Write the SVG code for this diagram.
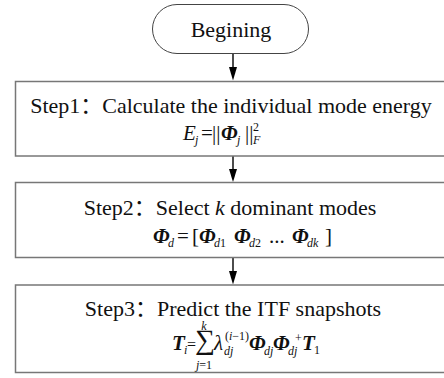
<svg xmlns="http://www.w3.org/2000/svg" width="444" height="378" viewBox="0 0 444 378">
<style>
.box{fill:#fff;stroke:#777;stroke-width:1.5}
.term{fill:#fff;stroke:#444;stroke-width:1}
.t{font-family:"Liberation Serif","Noto Sans CJK SC",serif;font-size:22px;fill:#111;text-anchor:middle}
.m{font-family:"Liberation Serif",serif;font-size:21px;fill:#111}
.bi{font-weight:bold;font-style:italic}
.i{font-style:italic}
.s{font-size:12px}
.c{stroke:#000;stroke-width:1.4;fill:none}
.ah{fill:#000}
</style>
<rect width="444" height="378" fill="#fff"/>
<g id="connectors">
<line class="c" x1="233" y1="53" x2="233" y2="72"/>
<path class="ah" d="M229,67 L237,67 L233,80.5 Z"/>
<line class="c" x1="233" y1="156" x2="233" y2="174"/>
<path class="ah" d="M229,169 L237,169 L233,182 Z"/>
<line class="c" x1="233" y1="258" x2="233" y2="276"/>
<path class="ah" d="M229,271 L237,271 L233,284.5 Z"/>
</g>
<g id="begin">
<rect class="term" x="152.5" y="4.5" width="156" height="49" rx="24.5"/>
<text class="t" x="231" y="37">Begining</text>
</g>
<g id="step1">
<rect class="box" x="15.5" y="81.5" width="440" height="74.5"/>
<text class="t" x="231" y="113">Step1：Calculate the individual mode energy</text>
<text class="m" y="140"><tspan x="183" class="i">E</tspan><tspan x="195" y="144" class="s i">j</tspan><tspan x="201" y="140">=</tspan><tspan x="212">||</tspan><tspan x="221" class="bi">Φ</tspan><tspan x="237" y="144" class="s i">j</tspan><tspan x="245" y="140">||</tspan><tspan x="253" y="144" class="s i">F</tspan><tspan x="253" y="131" class="s">2</tspan></text>
</g>
<g id="step2">
<rect class="box" x="15.5" y="182.5" width="440" height="75"/>
<text class="t" x="230" y="215">Step2：Select <tspan class="i">k</tspan> dominant modes</text>
<text class="m" y="243" font-size="20px"><tspan x="153" class="bi">Φ</tspan><tspan x="168" y="247" class="s i">d</tspan><tspan x="177" y="243">=</tspan><tspan x="192">[</tspan><tspan x="199" class="bi">Φ</tspan><tspan x="214" y="247" class="s"><tspan class="i">d</tspan>1</tspan><tspan x="234" y="243" class="bi">Φ</tspan><tspan x="249" y="247" class="s"><tspan class="i">d</tspan>2</tspan><tspan x="269" y="243">...</tspan><tspan x="292" class="bi">Φ</tspan><tspan x="307" y="247" class="s i">dk</tspan><tspan x="325" y="243">]</tspan></text>
</g>
<g id="step3">
<rect class="box" x="15.5" y="285" width="440" height="87.5"/>
<text class="t" x="233" y="316">Step3：Predict the ITF snapshots</text>
<text class="m" y="350" font-size="20px"><tspan x="172" class="bi">T</tspan><tspan x="184" y="354" class="s i">i</tspan><tspan x="187" y="350" font-size="16px">=</tspan><tspan x="195" y="349" font-size="28px">∑</tspan><tspan x="214" y="350" class="i">λ</tspan><tspan x="224" y="355" class="s i">dj</tspan><tspan x="225" y="340" class="s">(<tspan class="i">i</tspan>−1)</tspan><tspan x="249" y="350" class="bi">Φ</tspan><tspan x="264" y="355" class="s i">dj</tspan><tspan x="273" y="350" class="bi">Φ</tspan><tspan x="288" y="355" class="s i">dj</tspan><tspan x="295" y="342" class="s">+</tspan><tspan x="302" y="350" class="bi">T</tspan><tspan x="314" y="354" class="s">1</tspan></text>
<text class="m s i" x="204" y="330" text-anchor="middle">k</text>
<text class="m s" x="204" y="369" text-anchor="middle"><tspan class="i">j</tspan>=1</text>
</g>
</svg>
